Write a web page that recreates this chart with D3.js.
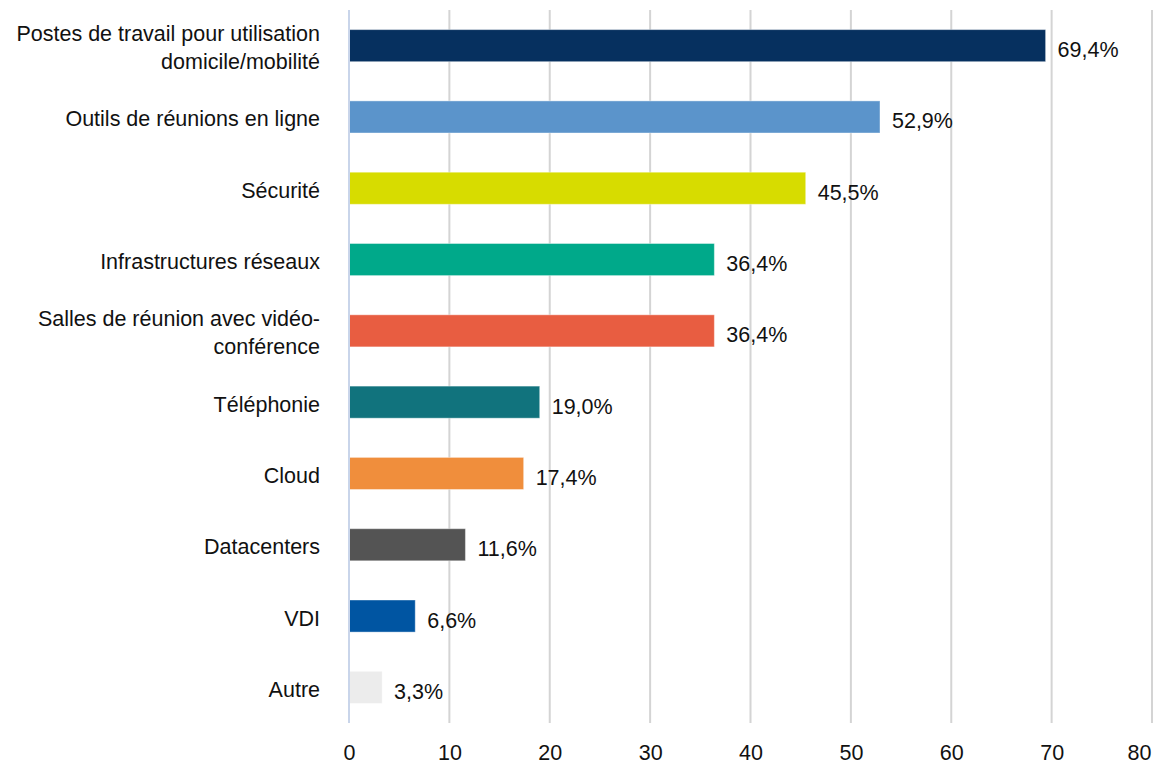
<!DOCTYPE html>
<head>
  <meta charset="utf-8">
  <script src="https://cdn.jsdelivr.net/npm/d3@7"></script>
  <style>
    body { margin:0; background:#fff; }
    text { font-family: "Liberation Sans", Arial, sans-serif; fill:#111; }
  </style>
</head>
<body>
  <div id="chart"></div>
  <script>
    // categories, top to bottom
    const categories = [
      ["Postes de travail pour utilisation", "domicile/mobilité"],
      ["Outils de réunions en ligne"],
      ["Sécurité"],
      ["Infrastructures réseaux"],
      ["Salles de réunion avec vidéo-", "conférence"],
      ["Téléphonie"],
      ["Cloud"],
      ["Datacenters"],
      ["VDI"],
      ["Autre"]
    ];
    const values = [69.4, 52.9, 45.5, 36.4, 36.4, 19.0, 17.4, 11.6, 6.6, 3.3];
    const colors = ["#06305f", "#5b94cb", "#d7dc00", "#00a98a", "#e85d41",
                    "#11737d", "#f08e3c", "#545454", "#0055a2", "#ececec"];
    const xTicks = [0, 10, 20, 30, 40, 50, 60, 70, 80];

    const width = 1155, height = 765;
    const margin = {top: 10, right: 3, bottom: 42, left: 349};
    const innerW = width - margin.left - margin.right;
    const innerH = height - margin.top - margin.bottom;
    const fs = '21.5px';

    const svg = d3.select('#chart').append('svg')
      .attr('width', width)
      .attr('height', height);

    const g = svg.append('g')
      .attr('transform', `translate(${margin.left},${margin.top})`);

    const x = d3.scaleLinear().domain([0, 80]).range([0, innerW]);
    const y = d3.scaleBand()
      .domain(d3.range(categories.length))
      .range([0, innerH])
      .paddingInner(0.55)
      .paddingOuter(0.275);

    // vertical gridlines
    g.selectAll('.grid')
      .data(xTicks.slice(1))
      .enter().append('line')
      .attr('x1', d => x(d)).attr('x2', d => x(d))
      .attr('y1', 0).attr('y2', innerH)
      .attr('stroke', '#d4d4d4')
      .attr('stroke-width', 2);

    // bars
    g.selectAll('.bar')
      .data(values)
      .enter().append('rect')
      .attr('x', x(0))
      .attr('y', (d, i) => y(i))
      .attr('width', d => x(d) - x(0))
      .attr('height', y.bandwidth())
      .attr('fill', (d, i) => colors[i])
      .attr('stroke', '#ffffff')
      .attr('stroke-opacity', 0.4)
      .attr('stroke-width', 1);

    // zero axis line
    g.append('line')
      .attr('x1', x(0)).attr('x2', x(0))
      .attr('y1', 0).attr('y2', innerH)
      .attr('stroke', '#c9d5ea')
      .attr('stroke-width', 2);

    // value labels
    g.selectAll('.val')
      .data(values)
      .enter().append('text')
      .attr('x', d => x(d) + 12)
      .attr('y', (d, i) => y(i) + y.bandwidth() / 2 + 4)
      .attr('dy', '0.35em')
      .style('font-size', fs)
      .text(d => d.toFixed(1).replace('.', ',') + '%');

    // category labels
    const cat = g.selectAll('.cat')
      .data(categories)
      .enter().append('text')
      .attr('text-anchor', 'end')
      .style('font-size', fs)
      .attr('transform', (d, i) => `translate(${-29},${y(i) + y.bandwidth() / 2 + 2})`);
    cat.selectAll('tspan')
      .data(d => d.map((t, k) => ({t, k, n: d.length})))
      .enter().append('tspan')
      .attr('x', 0)
      .attr('y', d => (d.k - (d.n - 1) / 2) * 28)
      .attr('dy', '0.35em')
      .text(d => d.t);

    // x axis
    const xAxis = g.append('g')
      .attr('transform', `translate(0,${innerH})`)
      .call(d3.axisBottom(x).tickValues(xTicks).tickSize(0).tickPadding(22));
    xAxis.select('.domain').remove();
    xAxis.selectAll('text')
      .style('font-size', fs)
      .style('font-family', '"Liberation Sans", Arial, sans-serif')
      .attr('fill', '#111');
    // keep the last tick label inside the frame
    xAxis.selectAll('.tick').filter(d => d === 80).select('text')
      .attr('text-anchor', 'end')
      .attr('x', -1);
  </script>
</body>
